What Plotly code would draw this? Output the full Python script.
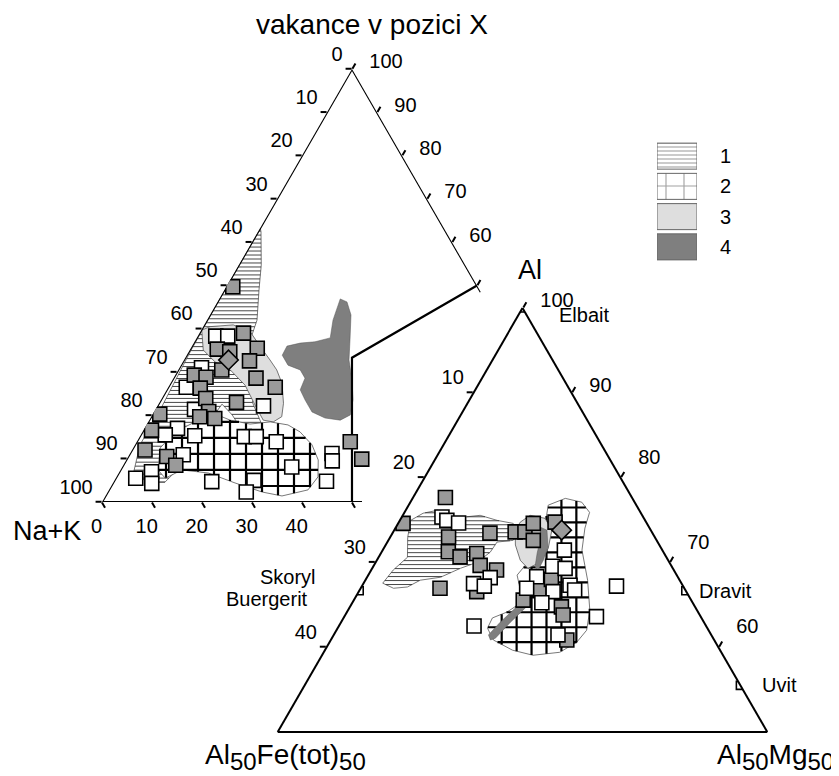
import math
import plotly.graph_objects as go

FONT = "Liberation Sans, Arial, sans-serif"

# ================= LEFT DIAGRAM: X-site (vakance / Na+K / Ca) =================
# values in % : vac = vakance v pozici X (apex), ca = Ca (hidden corner); Na+K = 100 - vac - ca
L_white_vac = [38.3, 38.3, 31.0, 26.5, 22.2, 21.4, 17.0, 15.5, 15.3, 15.1, 15.1, 13.9, 11.2, 9.5,
               10.9, 7.0, 5.5, 8.1, 4.7, 5.0, 4.8, 4.3, 2.3]
L_white_ca = [3.6, 6.0, 4.4, 3.6, 21.2, 7.8, 6.6, 4.9, 10.9, 20.9, 23.3, 27.9, 40.4, 41.3,
              10.8, 6.4, 4.0, 33.9, 19.6, 27.9, 42.5, 7.8, 27.7]
L_gray_vac = [49.7, 39.0, 35.5, 35.3, 34.7, 32.6, 30.5, 29.3, 28.8, 28.6, 26.5, 26.3, 23.9, 23.0,
              20.9, 19.7, 19.3, 20.3, 16.6, 13.9, 12.0, 10.5, 8.5, 9.9]
L_gray_ca = [1.3, 8.8, 13.3, 5.4, 8.2, 13.2, 8.7, 3.8, 6.4, 16.5, 21.4, 6.5, 8.8, 15.4,
             10.9, 9.7, 12.9, 1.4, 1.6, 42.7, 2.6, 7.7, 10.5, 47.0]
L_diam_vac = [32.8]
L_diam_ca = [8.9]

# fields (outlines, %)
L_f1_vac = [63.3, 62.4, 54.7, 49.0, 42.0, 38.6, 32.8, 25.9, 23.1, 17.8, 11.5, 10.2, 14.3, 20.1,
            22.6, 19.4, 14.3, 9.2, 4.6, 4.6, 6.5, 13.2, 21.2, 34.6, 46.7, 58.2]
L_f1_ca = [0.0, 0.6, 4.5, 6.9, 10.0, 10.7, 14.4, 18.3, 18.5, 23.1, 28.3, 26.9, 22.1, 16.0,
           12.7, 12.3, 12.5, 12.0, 10.3, 6.9, 3.0, 1.0, 1.0, 0.3, 0.1, 0.0]
L_f2_vac = [12.5, 16.2, 18.5, 20.8, 18.9, 18.0, 18.5, 17.8, 16.2, 13.2, 9.7, 5.8, 2.8, 1.4, 2.3,
            4.4, 6.7, 7.4, 5.5, 7.4]
L_f2_ca = [5.4, 6.5, 9.4, 11.2, 16.2, 20.6, 24.4, 28.3, 31.5, 35.4, 38.4, 40.3, 39.8, 35.3, 30.9,
           24.4, 17.9, 12.3, 9.9, 7.5]
L_f3_vac = [39.7, 40.5, 40.9, 39.3, 35.9, 32.8, 30.5, 27.4, 22.8, 19.7, 18.5, 18.9, 22.4, 27.0,
            30.5, 32.3, 35.1]
L_f3_ca = [0.1, 1.4, 5.8, 10.0, 13.7, 17.2, 19.7, 22.3, 24.9, 26.1, 25.0, 22.8, 19.4, 15.1,
           10.4, 6.5, 2.7]
L_f4_vac = [46.9, 46.2, 43.2, 37.4, 32.8, 28.2, 23.6, 20.1, 18.9, 19.4, 20.8, 23.6, 25.9, 28.6,
            30.5, 31.6, 33.9, 36.0, 36.7, 37.0, 37.9, 42.0]
L_f4_ca = [24.2, 25.9, 28.2, 30.9, 33.0, 35.9, 38.4, 39.6, 38.2, 34.9, 31.6, 28.8, 26.7, 26.3,
           24.4, 21.4, 19.1, 19.0, 21.3, 24.1, 26.7, 25.2]

# frame of the truncated diagram (vac, ca)
L_frame_vac = [48.5, 100, 0, 0]
L_frame_ca = [51.5, 0, 0, 52]
L_div_vac = [0, 33.33, 50]
L_div_ca = [50, 33.33, 50]

# tick labels
L_naK_ticks = [0, 10, 20, 30, 40, 50, 60, 70, 80, 90, 100]
L_ca_ticks = [0, 10, 20, 30, 40]
L_vac_ticks = [100, 90, 80, 70, 60]

# ================= RIGHT DIAGRAM: Al / Al50Fe(tot)50 / Al50Mg50 =================
# values in % of end-members: al = Al apex, mg = Al50Mg50 ; Al50Fe50 = 100 - al - mg
R_white_al = [50.7, 49.9, 49.3, 36.4, 35.0, 34.4, 25.0, 42.9, 39.1, 38.6, 36.6, 33.9, 33.1, 34.6,
              33.5, 30.5, 27.2, 34.4, 22.9]
R_white_mg = [8.2, 9.6, 12.3, 25.2, 22.5, 25.0, 27.6, 37.1, 36.6, 39.4, 34.6, 33.9, 39.7, 42.4,
              43.9, 38.7, 51.5, 52.0, 45.8]
R_gray_al = [55.3, 49.2, 46.0, 42.5, 41.3, 42.1, 46.9, 39.3, 38.2, 33.1, 33.9, 47.2, 47.2, 49.2,
             45.2, 49.5, 33.6, 36.0, 31.1, 29.5, 27.6, 21.7]
R_gray_mg = [6.6, 1.0, 11.9, 13.6, 16.6, 19.6, 19.9, 21.7, 25.6, 24.1, 16.2, 24.9, 26.9, 27.6,
             29.6, 31.9, 36.6, 37.9, 34.6, 43.2, 44.5, 48.2]
R_diam_al = [47.6]
R_diam_mg = [34.2]

R_f1_al = [35.1, 38.2, 41.2, 45.9, 49.9, 51.6, 52.3, 50.6, 50.6, 51.1, 49.9, 49.2, 47.1, 45.2,
           44.8, 42.4, 40.0, 38.6, 36.5, 35.8, 34.2, 33.9]
R_f1_mg = [3.9, 4.5, 5.9, 3.6, 2.2, 3.9, 6.5, 9.3, 12.0, 15.8, 19.9, 23.5, 25.6, 25.5,
           22.4, 22.2, 20.7, 18.0, 15.0, 11.2, 9.4, 6.7]
R_f2_al = [53.5, 55.1, 54.2, 51.8, 48.1, 42.9, 35.8, 28.7, 24.0, 21.2, 18.8, 18.1, 19.3, 21.7,
           24.5, 26.9, 28.3, 29.9, 33.5, 37.0, 39.3, 41.7, 44.5, 48.8]
R_f2_mg = [28.5, 31.2, 35.0, 37.8, 38.7, 40.7, 45.4, 49.4, 51.1, 50.5, 48.2, 43.1, 38.3, 33.2,
           30.6, 30.4, 32.7, 34.0, 32.8, 30.4, 30.9, 32.2, 32.0, 30.2]
R_f3_al = [49.5, 51.1, 50.4, 47.6, 43.3, 40.0, 38.6, 40.5, 44.1, 47.6]
R_f3_mg = [24.8, 26.0, 29.4, 32.2, 33.6, 33.6, 31.8, 29.3, 26.5, 24.7]
R_f4a_al = [48.3, 47.6, 43.6, 40.5, 38.2, 38.9, 42.2, 45.2]
R_f4a_mg = [29.5, 31.2, 33.4, 34.0, 34.1, 33.1, 31.9, 31.0]
R_f4b_al = [31.1, 29.9, 25.9, 22.1, 21.7, 22.9, 25.9, 29.2]
R_f4b_mg = [35.0, 36.2, 34.6, 33.4, 32.6, 31.6, 32.5, 33.9]

# end-members
R_end_names = ["Elbait", "Skoryl", "Dravit", "Uvit"]
R_end_al = [100, 33.3, 33.3, 11.0]
R_end_mg = [0, 0, 66.7, 89.0]

R_fe_ticks = [10, 20, 30, 40]        # Fe(tot) on 0-50 scale
R_al_ticks = [100, 90, 80, 70, 60]   # Al on 50-100 scale

# legend
LEG_labels = ["1", "2", "3", "4"]

# ---------------------------------------------------------------------------
W, H = 831, 768          # figure size; the page body adds an 8 px margin
OFF = 8
NB = "\u00a0"


def X(px):
    return (px - OFF) / W


def Y(py):
    return 1 - (py - OFF) / H


def rest(a, c):
    return [None if (x is None or y is None) else round(100 - x - y, 4) for x, y in zip(a, c)]


def scan(ys, xs, level):
    n = len(ys)
    cuts = []
    for i in range(n):
        y1, x1 = ys[i], xs[i]
        y2, x2 = ys[(i + 1) % n], xs[(i + 1) % n]
        if (y1 <= level < y2) or (y2 <= level < y1):
            cuts.append(x1 + (level - y1) * (x2 - x1) / (y2 - y1))
    cuts.sort()
    return [(cuts[k], cuts[k + 1]) for k in range(0, len(cuts) - 1, 2)]


def hatch_lines(a_list, c_list, step, vertical=False):
    """lines of constant a (horizontal) or constant c + a/2 (vertical) clipped to a field"""
    u_list = [c + a / 2 for a, c in zip(a_list, c_list)]
    A, C = [], []
    if not vertical:
        lvl = math.ceil(min(a_list) / step) * step
        while lvl < max(a_list):
            for u1, u2 in scan(a_list, u_list, lvl):
                A += [lvl, lvl, None]
                C += [u1 - lvl / 2, u2 - lvl / 2, None]
            lvl += step
    else:
        lvl = math.ceil(min(u_list) / step) * step
        while lvl < max(u_list):
            for a1, a2 in scan(u_list, a_list, lvl):
                A += [a1, a2, None]
                C += [lvl - a1 / 2, lvl - a2 / 2, None]
            lvl += step
    return A, C


GRAY = "#9a9a9a"
LIGHT = "#dedede"
DARK = "#7f7f7f"

fig = go.Figure()


def area(sub, a, c, fillcolor, lw=0.8, lc="#555555"):
    fig.add_trace(go.Scatterternary(
        a=a + a[:1], b=rest(a + a[:1], c + c[:1]), c=c + c[:1], subplot=sub, mode="lines",
        fill="toself", fillcolor=fillcolor, line=dict(color=lc, width=lw),
        hoverinfo="skip", showlegend=False))


def lines(sub, a, c, color, width):
    fig.add_trace(go.Scatterternary(
        a=a, b=rest(a, c), c=c, subplot=sub, mode="lines", connectgaps=False,
        line=dict(color=color, width=width), hoverinfo="skip", showlegend=False))


def hatched(sub, a, c, step, bg):
    area(sub, a, c, bg)
    ha, hc = hatch_lines(a, c, step)
    lines(sub, ha, hc, "#333333", 0.9)


def gridded(sub, a, c, step_a, step_u, bg="white"):
    area(sub, a, c, bg)
    ha, hc = hatch_lines(a, c, step_a)
    lines(sub, ha, hc, "black", 2.2)
    va, vc = hatch_lines(a, c, step_u, vertical=True)
    lines(sub, va, vc, "black", 2.2)


def pts(sub, a, c, fill, symbol="square", size=14):
    fig.add_trace(go.Scatterternary(
        a=a, b=rest(a, c), c=c, subplot=sub, mode="markers",
        marker=dict(symbol=symbol, size=size, color=fill, line=dict(color="black", width=1.6)),
        hoverinfo="skip", showlegend=False))


# ---------- left ----------
hatched("ternary", L_f1_vac, L_f1_ca, 0.92, "white")
area("ternary", L_f3_vac, L_f3_ca, LIGHT)
gridded("ternary", L_f2_vac, L_f2_ca, 3.7, 3.2)
area("ternary", L_f4_vac, L_f4_ca, DARK, lw=0.5)

lines("ternary", L_frame_vac, L_frame_ca, "black", 2.2)
lines("ternary", L_div_vac, L_div_ca, "black", 2.2)

pts("ternary", L_white_vac, L_white_ca, "white")
pts("ternary", L_gray_vac, L_gray_ca, GRAY)
pts("ternary", L_diam_vac, L_diam_ca, GRAY, symbol="diamond", size=15)

# ---------- right ----------
hatched("ternary2", R_f1_al, R_f1_mg, 0.94, "white")
gridded("ternary2", R_f2_al, R_f2_mg, 3.53, 3.05)
area("ternary2", R_f3_al, R_f3_mg, LIGHT)
area("ternary2", R_f4a_al, R_f4a_mg, DARK, lw=0.5)
area("ternary2", R_f4b_al, R_f4b_mg, DARK, lw=0.5)

pts("ternary2", R_gray_al, R_gray_mg, GRAY)
pts("ternary2", R_white_al, R_white_mg, "white")
pts("ternary2", R_diam_al, R_diam_mg, GRAY, symbol="diamond", size=15)
pts("ternary2", R_end_al, R_end_mg, "white", size=8)

# ---------- legend as a small bar chart ----------
fig.add_trace(go.Bar(
    x=[1, 1, 1, 1], y=LEG_labels, orientation="h", width=0.86, xaxis="x", yaxis="y",
    marker=dict(color=["white", "white", LIGHT, DARK],
                line=dict(color="#666666", width=1),
                pattern=dict(shape=["-", "+", "", ""], size=[4, 18, 8, 8],
                             solidity=[0.28, 0.12, 0.2, 0.2], fgcolor="black")),
    hoverinfo="skip", showlegend=False))

tick_common = dict(showgrid=False, ticks="outside", ticklen=6, tickwidth=1.5, tickcolor="black",
                   tickfont=dict(size=20, family=FONT, color="black"), title=dict(text=""),
                   linecolor="black", linewidth=2, tickmode="array")

# label text helpers: left-edge labels sit a little higher, right-edge labels a little further out
up = lambda s: s + "<br>" + NB
out = lambda s: NB * 2 + s
left_shift = lambda s: s + NB * 3
R_al_text = [out(str(v)) if v >= 90 else up(out(str(v))) for v in R_al_ticks]

fig.update_layout(
    width=W, height=H, margin=dict(l=0, r=0, t=0, b=0),
    paper_bgcolor="white", plot_bgcolor="rgba(0,0,0,0)", showlegend=False,
    font=dict(family=FONT, color="black"),
    ternary=dict(
        sum=100, bgcolor="rgba(0,0,0,0)",
        domain=dict(x=[X(102), X(602)], y=[Y(502), Y(69)]),
        aaxis=dict(**tick_common, showline=False,
                   tickvals=[100 - v for v in L_naK_ticks],
                   ticktext=[up(str(v)) for v in L_naK_ticks]),
        baxis=dict(**tick_common, showline=False,
                   tickvals=[100 - v for v in L_ca_ticks] + [50],
                   ticktext=[left_shift(str(v)) for v in L_ca_ticks] + [""]),
        caxis=dict(**tick_common, showline=False,
                   tickvals=[100 - v for v in L_vac_ticks] + [50],
                   ticktext=[out(str(v)) for v in L_vac_ticks] + [""]),
    ),
    ternary2=dict(
        sum=100, bgcolor="rgba(0,0,0,0)",
        domain=dict(x=[X(277), X(768)], y=[Y(732), Y(308)]),
        aaxis=dict(**tick_common, showline=True,
                   tickvals=[100 - 2 * v for v in R_fe_ticks],
                   ticktext=[up(str(v)) for v in R_fe_ticks]),
        baxis=dict(showgrid=False, showline=True, linecolor="black", linewidth=2, ticks="",
                   showticklabels=False, title=dict(text="")),
        caxis=dict(**tick_common, showline=True,
                   tickvals=[2 * (100 - v) for v in R_al_ticks],
                   ticktext=R_al_text),
    ),
    xaxis=dict(domain=[X(657), X(697)], range=[0, 1], visible=False, fixedrange=True),
    yaxis=dict(domain=[Y(262), Y(141)], type="category", categoryarray=LEG_labels,
               autorange="reversed", side="right", showgrid=False, zeroline=False, showline=False,
               ticks="", ticklabelstandoff=22, tickfont=dict(size=20, family=FONT, color="black")),
    bargap=0.1,
)


def ann(text, x, y, size, xanchor="center", yanchor="middle"):
    fig.add_annotation(text=text, x=X(x), y=Y(y), xref="paper", yref="paper",
                       showarrow=False, xanchor=xanchor, yanchor=yanchor,
                       font=dict(size=size, family=FONT, color="black"))


SUB = "<sub><span style='font-size:24px'>50</span></sub>"
ann("vakance v pozici X", 372, 25, 28)
ann("Na+K", 47, 531, 27)
ann("Al", 530, 270, 27)
ann("Elbait", 557, 315, 20, xanchor="left")
ann("Skoryl", 318, 577, 20, xanchor="right")
ann("Buergerit", 310, 599, 20, xanchor="right")
ann("Dravit", 697, 591, 20, xanchor="left")
ann("Uvit", 760, 685, 20, xanchor="left")
ann("Al" + SUB + "Fe(tot)" + SUB, 203, 757, 28, xanchor="left")
ann("Al" + SUB + "Mg" + SUB, 715, 757, 28, xanchor="left")

fig.write_html("out.html")
